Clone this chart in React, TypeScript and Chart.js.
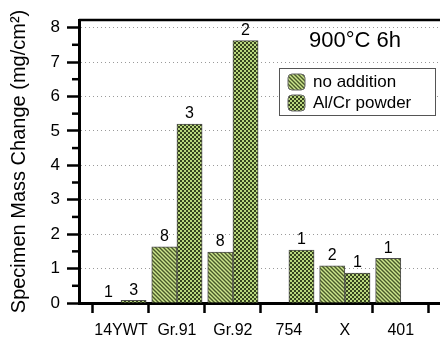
import React, { useEffect, useRef } from 'react';
import { Chart, registerables } from 'chart.js';

Chart.register(...registerables);

const categories = ['14YWT', 'Gr.91', 'Gr.92', '754', 'X', '401'];
const noAddition: (number | null)[] = [0, 1.63, 1.48, null, 1.08, 1.3];
const alCrPowder: (number | null)[] = [0.08, 5.2, 7.62, 1.54, 0.87, null];
const noAdditionCounts = ['1', '8', '8', '', '2', '1'];
const alCrPowderCounts = ['3', '3', '2', '1', '1', ''];
const yTickValues = [0, 1, 2, 3, 4, 5, 6, 7, 8];
const yMinorTickValues = [0.5, 1.5, 2.5, 3.5, 4.5, 5.5, 6.5, 7.5];
const seriesNames = ['no addition', 'Al/Cr powder'];
const chartTitle = '900°C 6h';
const yAxisTitle = 'Specimen Mass Change (mg/cm²)';

const FONT = "'Liberation Sans', Arial, Helvetica, sans-serif";

function stripePattern(bg: string, fg: string) {
  const c = document.createElement('canvas');
  c.width = 4;
  c.height = 4;
  const g = c.getContext('2d')!;
  g.fillStyle = bg;
  g.fillRect(0, 0, 4, 4);
  g.strokeStyle = fg;
  g.lineWidth = 1.4;
  g.beginPath();
  g.moveTo(-1, -1);
  g.lineTo(5, 5);
  g.moveTo(-1, 3);
  g.lineTo(1, 5);
  g.moveTo(3, -1);
  g.lineTo(5, 1);
  g.stroke();
  return g.createPattern(c, 'repeat')!;
}

function checkerPattern(a: string, b: string) {
  const c = document.createElement('canvas');
  c.width = 4;
  c.height = 4;
  const g = c.getContext('2d')!;
  g.fillStyle = a;
  g.fillRect(0, 0, 4, 4);
  g.fillStyle = b;
  g.fillRect(0, 0, 2, 2);
  g.fillRect(2, 2, 2, 2);
  return g.createPattern(c, 'repeat')!;
}

export default function App() {
  const ref = useRef<HTMLCanvasElement | null>(null);

  useEffect(() => {
    const canvas = ref.current;
    if (!canvas) return;
    const stripe = stripePattern('#cde68e', '#4a5a2a');
    const checker = checkerPattern('#b9d77e', '#36431e');
    const fills = [stripe, checker];
    const counts = [noAdditionCounts, alCrPowderCounts];

    const decor = {
      id: 'decor',
      afterDraw(chart: any) {
        const { ctx, chartArea, scales } = chart;
        ctx.save();
        ctx.strokeStyle = '#000';
        ctx.lineWidth = 2.5;
        ctx.beginPath();
        ctx.moveTo(chartArea.left, chartArea.top);
        ctx.lineTo(chartArea.right + 2, chartArea.top);
        ctx.stroke();
        yMinorTickValues.forEach((v) => {
          const py = scales.y.getPixelForValue(v);
          ctx.beginPath();
          ctx.moveTo(chartArea.left - 7, py);
          ctx.lineTo(chartArea.left, py);
          ctx.stroke();
        });
        ctx.fillStyle = '#000';
        ctx.font = `16px ${FONT}`;
        ctx.textAlign = 'center';
        ctx.textBaseline = 'bottom';
        chart.data.datasets.forEach((ds: any, di: number) => {
          const meta = chart.getDatasetMeta(di);
          meta.data.forEach((el: any, i: number) => {
            const txt = counts[di][i];
            if (!txt || ds.data[i].y == null) return;
            ctx.fillText(txt, el.x, el.y - 2);
          });
        });
        ctx.font = `22px ${FONT}`;
        ctx.textBaseline = 'middle';
        ctx.fillText(chartTitle, 355, 41);
        ctx.fillStyle = '#fff';
        ctx.fillRect(279, 68, 156, 47);
        ctx.strokeStyle = '#555';
        ctx.lineWidth = 1;
        ctx.strokeRect(279.5, 68.5, 156, 47);
        const rows = [82, 103];
        rows.forEach((cy, i) => {
          ctx.fillStyle = fills[i];
          ctx.strokeStyle = '#666';
          ctx.beginPath();
          (ctx as any).roundRect(288, cy - 8, 17, 16, 4);
          ctx.fill();
          ctx.stroke();
          ctx.fillStyle = '#000';
          ctx.font = `17px ${FONT}`;
          ctx.textAlign = 'left';
          ctx.textBaseline = 'middle';
          ctx.fillText(seriesNames[i], 313, cy);
        });
        ctx.restore();
      },
    };

    const chart = new Chart(canvas, {
      type: 'bar',
      data: {
        datasets: [
          {
            label: seriesNames[0],
            data: categories.map((c, i) => ({ x: i + 0.5, y: noAddition[i] })) as any,
            backgroundColor: stripe as any,
            borderColor: '#4d4d4d',
            borderWidth: 1,
          },
          {
            label: seriesNames[1],
            data: categories.map((c, i) => ({ x: i + 0.5, y: alCrPowder[i] })) as any,
            backgroundColor: checker as any,
            borderColor: '#4d4d4d',
            borderWidth: 1,
          },
        ],
      },
      options: {
        animation: false,
        responsive: false,
        layout: { padding: { top: 20, right: 0, left: 0, bottom: 0 } },
        plugins: { legend: { display: false }, tooltip: { enabled: false } },
        datasets: { bar: { barThickness: 25.2 } },
        scales: {
          x: {
            type: 'linear',
            min: -0.25,
            max: 6.2,
            offset: false,
            afterBuildTicks: (s: any) => {
              const t: any[] = [];
              for (let i = 0; i <= 12; i++) t.push({ value: i / 2 });
              s.ticks = t;
            },
            afterFit: (s: any) => {
              s.height = 40;
            },
            grid: {
              offset: false,
              drawOnChartArea: false,
              tickLength: 10,
              tickWidth: 2.5,
              tickColor: (ctx: any) =>
                ctx.tick && Number.isInteger(ctx.tick.value) ? '#000' : 'rgba(0,0,0,0)',
            },
            border: { color: '#000', width: 3 },
            ticks: {
              autoSkip: false,
              maxRotation: 0,
              padding: 8,
              color: '#000',
              font: { size: 16, family: FONT },
              callback: (v: any) => (v % 1 === 0.5 ? categories[Math.floor(v)] : ''),
            },
          } as any,
          y: {
            min: 0,
            max: 8.22,
            afterBuildTicks: (s: any) => {
              s.ticks = yTickValues.map((v) => ({ value: v }));
            },
            afterFit: (s: any) => {
              s.width = 79;
            },
            grid: {
              color: '#9a9a9a',
              lineWidth: 1,
              tickLength: 12,
              tickWidth: 2.5,
              tickColor: '#000',
              tickBorderDash: [],
            },
            border: { color: '#000', width: 3, dash: [1, 3] },
            ticks: {
              padding: 7,
              color: '#000',
              font: { size: 17, family: FONT },
            },
            title: {
              display: true,
              text: yAxisTitle,
              color: '#000',
              font: { size: 20, family: FONT },
              padding: { top: 7, bottom: 0 },
            },
          } as any,
        },
      },
      plugins: [decor],
    });
    return () => chart.destroy();
  }, []);

  return (
    <div style={{ position: 'fixed', left: 0, top: 0, width: 440, height: 343, overflow: 'hidden', background: '#fff' }}>
      <canvas ref={ref} width={440} height={343} style={{ width: 440, height: 343 }} />
    </div>
  );
}
